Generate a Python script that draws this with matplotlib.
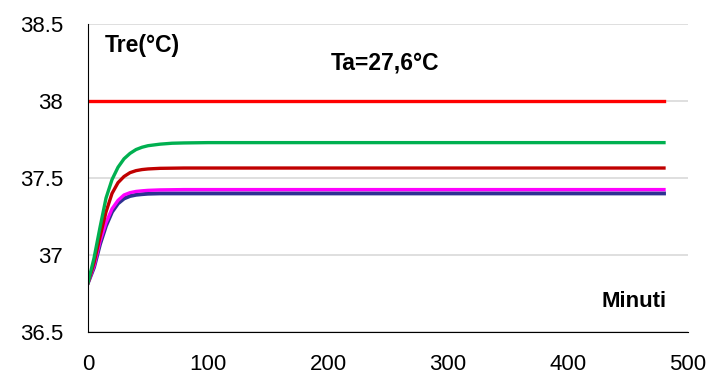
import matplotlib
matplotlib.use("Agg")
import matplotlib.pyplot as plt

# minutes and rectal temperature curves
minuti = [0, 5, 10, 15, 20, 25, 30, 35, 40, 45, 50, 60, 70, 80, 100, 150, 480]
verde = [36.82, 36.98, 37.18, 37.37, 37.49, 37.57, 37.625, 37.66, 37.685, 37.70,
         37.71, 37.72, 37.726, 37.728, 37.73, 37.73, 37.73]
rosso_scuro = [36.82, 36.95, 37.12, 37.28, 37.40, 37.47, 37.51, 37.535, 37.548, 37.555,
               37.559, 37.563, 37.564, 37.565, 37.565, 37.565, 37.565]
magenta = [36.82, 36.93, 37.09, 37.21, 37.30, 37.355, 37.39, 37.405, 37.413, 37.417,
           37.42, 37.423, 37.424, 37.425, 37.425, 37.425, 37.425]
blu = [36.82, 36.92, 37.07, 37.19, 37.28, 37.335, 37.367, 37.383, 37.391, 37.395,
       37.398, 37.40, 37.40, 37.40, 37.40, 37.40, 37.40]
limite = [38.0] * len(minuti)

plt.rcParams['font.family'] = ['Liberation Sans', 'DejaVu Sans']

fig = plt.figure(figsize=(7.18, 3.76), dpi=100)
ax = fig.add_axes([0.1226, 0.117, 0.8356, 0.819])

ax.plot(minuti, limite, color='#FF0000', lw=2.4)
ax.plot(minuti, blu, color='#2E3192', lw=2.8, solid_joinstyle='round')
ax.plot(minuti, magenta, color='#FF00FF', lw=2.4, solid_joinstyle='round')
ax.plot(minuti, rosso_scuro, color='#C00000', lw=2.4, solid_joinstyle='round')
ax.plot(minuti, verde, color='#00B050', lw=2.4, solid_joinstyle='round')

ax.set_xlim(0, 500)
ax.set_ylim(36.5, 38.5)
ax.set_xticks([0, 100, 200, 300, 400, 500])
ax.set_yticks([36.5, 37, 37.5, 38, 38.5])
ax.set_yticklabels(['36.5', '37', '37.5', '38', '38.5'])
ax.tick_params(axis='both', length=0, labelsize=16, colors='black')
ax.tick_params(axis='x', pad=16)
ax.tick_params(axis='y', pad=18)

ax.grid(axis='y', color='#D9D9D9', lw=1.2)
ax.set_axisbelow(True)
for s in ['top', 'right']:
    ax.spines[s].set_visible(False)
ax.spines['left'].set_color('black')
ax.spines['bottom'].set_color('black')

ax.text(0.028, 0.93, 'Tre(°C)', transform=ax.transAxes, fontsize=16.5,
        fontweight='bold', va='center', ha='left')
ax.text(0.405, 0.875, 'Ta=27,6°C', transform=ax.transAxes, fontsize=16.5,
        fontweight='bold', va='center', ha='left')
ax.text(0.965, 0.10, 'Minuti', transform=ax.transAxes, fontsize=16,
        fontweight='bold', va='center', ha='right')

fig.savefig('out.png', dpi=100)
